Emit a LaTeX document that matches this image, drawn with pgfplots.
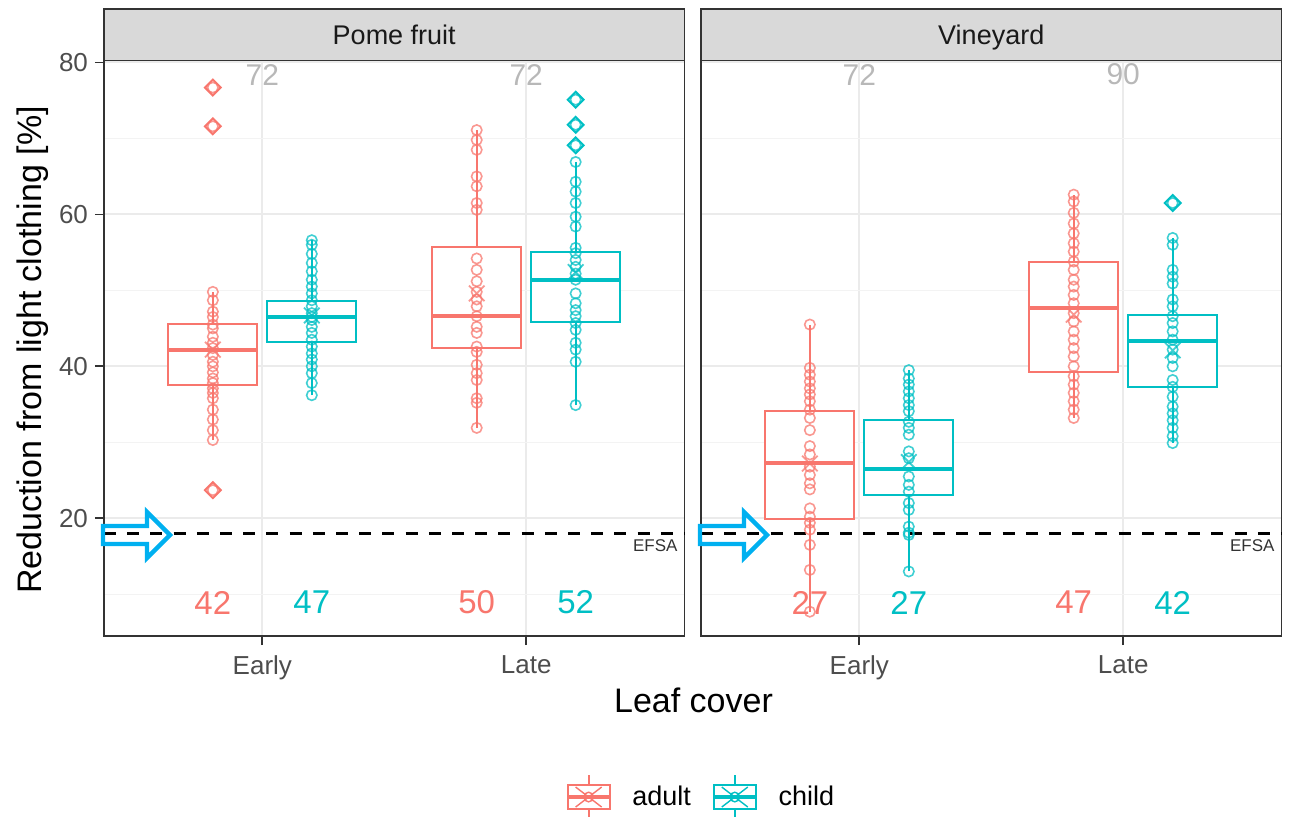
\documentclass[border=0pt]{standalone}
\usepackage{pgfplots}
\pgfplotsset{compat=1.18}
\usepackage{pgfplotstable}
\usepackage{fontspec}
\setmainfont{Liberation Sans}
\definecolor{adultc}{HTML}{F8766D}
\definecolor{childc}{HTML}{00BFC4}
\definecolor{gridc}{HTML}{EBEBEB}
\definecolor{minorc}{HTML}{F3F3F3}
\definecolor{borderc}{HTML}{333333}
\definecolor{tickc}{HTML}{4D4D4D}
\definecolor{stripc}{HTML}{D9D9D9}
\definecolor{nlab}{HTML}{B8B8B8}
\definecolor{arrowc}{HTML}{00B0F0}

% ---------- data (reduction, %) ----------
\pgfplotstableread{
v
76.7
71.6
49.8
48.7
47.2
46.5
45.5
45.0
43.9
43.1
42.4
41.5
40.6
40.0
39.2
38.4
37.8
37.1
36.5
35.8
34.3
33.0
31.6
30.3
23.7
}\PEA
\pgfplotstableread{
v
56.6
56.0
54.8
53.6
52.5
51.4
50.5
49.6
48.7
47.9
47.0
46.5
46.1
45.2
44.4
43.5
42.6
41.7
40.9
40.0
39.1
37.8
36.2
}\PEC
\pgfplotstableread{
v
71.1
69.8
68.5
65.0
63.7
61.5
60.6
54.2
52.7
51.2
49.8
48.8
47.9
46.6
45.2
44.4
42.6
41.9
40.2
39.1
38.2
35.8
35.2
31.9
}\PLA
\pgfplotstableread{
v
75.1
71.8
69.1
66.9
64.3
63.0
61.5
59.7
58.4
55.6
54.9
54.0
53.1
52.2
51.4
49.6
48.3
47.4
46.6
45.7
44.8
43.1
42.2
40.6
34.9
}\PLC
\pgfplotstableread{
v
45.5
39.8
38.9
38.0
37.1
36.3
35.4
34.3
33.2
31.6
29.5
28.4
26.8
25.7
24.6
23.8
21.3
20.2
19.4
18.5
16.5
13.2
7.7
}\VEA
\pgfplotstableread{
v
39.5
38.4
37.6
36.7
35.8
34.9
34.1
32.7
31.9
31.0
28.8
27.9
25.5
24.4
23.5
22.0
21.1
18.9
18.1
17.8
13.0
}\VEC
\pgfplotstableread{
v
62.6
61.7
60.2
58.8
57.5
56.2
55.1
53.8
52.7
51.4
50.5
49.4
48.3
47.0
45.9
44.6
43.5
42.4
41.3
40.0
38.7
37.6
36.5
35.4
34.3
33.2
}\VLA
\pgfplotstableread{
v
61.5
56.9
56.0
52.7
51.8
50.9
48.8
47.9
46.6
45.7
44.6
43.5
42.2
41.1
40.0
38.2
37.3
36.0
34.7
33.8
32.9
31.9
30.8
29.9
}\VLC

% box: colour, box left, centre, box right, lower whisker, lower quartile, median, upper quartile, upper whisker
\newcommand{\boxg}[9]{%
  \addplot[#1, line width=1.1pt] coordinates {(#3,#5) (#3,#6)};
  \addplot[#1, line width=1.1pt] coordinates {(#3,#8) (#3,#9)};
  \addplot[draw=#1, fill=white, line width=1.1pt, line join=miter, line cap=rect]
    coordinates {(#2,#6) (#4,#6) (#4,#8) (#2,#8) (#2,#6)};
  \addplot[#1, line width=2.1pt] coordinates {(#2,#7) (#4,#7)};
}
% points: colour, centre, table, mean
\newcommand{\ptsg}[4]{%
  \addplot[only marks, mark=o, mark size=2.6pt, draw=#1,
    mark options={draw opacity=0.75, line width=0.8pt}]
    table[x expr=#2, y=v] {#3};
  \addplot[only marks, mark=x, mark size=5.5pt, draw=#1,
    mark options={line width=0.9pt, draw opacity=0.75}] coordinates {(#2,#4)};
}

\tikzset{strip/.style={fill=stripc, draw=borderc, line width=0.9pt}}
\pgfplotsset{
  panel/.style={
    scale only axis, width=290.25pt, height=287.75pt,
    xmin=0.4, xmax=2.6, ymin=4.5, ymax=80.26,
    xtick={1,2}, xticklabels={Early,Late},
    ytick={20,40,60,80}, minor ytick={10,30,50,70},
    xmajorgrids, ymajorgrids, yminorgrids,
    major grid style={gridc, line width=1pt},
    minor grid style={minorc, line width=0.6pt},
    axis line style={borderc, line width=0.9pt},
    tick pos=left, tick align=outside,
    major tick length=4.5pt, minor tick length=0pt,
    every tick/.style={borderc, line width=0.9pt},
    tick label style={font=\fontsize{13}{15}\selectfont, text=tickc},
    xticklabel style={yshift=-2pt},
    /pgf/number format/assume math mode=true,
    clip=false,
  },
  outl/.style={only marks, mark=square, mark size=2.8pt, draw=#1,
    mark options={rotate=45, line width=1pt}},
}

\newcommand{\efsa}{%
  \addplot[black, line width=1.3pt, dash pattern=on 6pt off 5.6pt] coordinates {(0.4,18) (2.6,18)};
  \node[anchor=east, font=\fontsize{8.5}{10}\selectfont, text=borderc] at (axis cs:2.6,16.4) {EFSA};
}

\begin{document}
\begin{tikzpicture}
\path[use as bounding box] (0,0) rectangle (647pt,408pt);

% ---------------- Pome fruit ----------------
\begin{axis}[panel, at={(52pt,90pt)}, anchor=south west,
  legend style={at={(1.0301,-0.2798)}, anchor=center, draw=none, fill=none,
    font=\fontsize{13.5}{16}\selectfont, legend columns=2,
    /tikz/every odd column/.append style={column sep=8.5pt},
    /tikz/every even column/.append style={column sep=8.5pt}},
  legend cell align=left]
\addlegendimage{legend image code/.code={
  \draw[adultc, line width=0.9pt, fill=white] (0pt,-6pt) rectangle (21pt,6pt);
  \draw[adultc, line width=0.9pt] (10.5pt,6pt) -- (10.5pt,11pt) (10.5pt,-6pt) -- (10.5pt,-11pt);
  \draw[adultc, line width=1.8pt] (0pt,0pt) -- (21pt,0pt);
  \draw[adultc, line width=0.7pt] (4pt,-5pt) -- (17pt,5pt) (4pt,5pt) -- (17pt,-5pt);
  \draw[adultc, line width=0.7pt] (10.5pt,0pt) circle (2.4pt);}}
\addlegendentry{adult}
\addlegendimage{legend image code/.code={
  \draw[childc, line width=0.9pt, fill=white] (0pt,-6pt) rectangle (21pt,6pt);
  \draw[childc, line width=0.9pt] (10.5pt,6pt) -- (10.5pt,11pt) (10.5pt,-6pt) -- (10.5pt,-11pt);
  \draw[childc, line width=1.8pt] (0pt,0pt) -- (21pt,0pt);
  \draw[childc, line width=0.7pt] (4pt,-5pt) -- (17pt,5pt) (4pt,5pt) -- (17pt,-5pt);
  \draw[childc, line width=0.7pt] (10.5pt,0pt) circle (2.4pt);}}
\addlegendentry{child}

\boxg{adultc}{0.64375}{0.8125}{0.98125}{30.3}{37.5}{42.1}{45.6}{49.8}
\boxg{childc}{1.01875}{1.1875}{1.35625}{36.2}{43.2}{46.5}{48.6}{56.6}
\boxg{adultc}{1.64375}{1.8125}{1.98125}{31.9}{42.4}{46.6}{55.7}{71.1}
\boxg{childc}{2.01875}{2.1875}{2.35625}{34.9}{45.8}{51.4}{55.1}{66.9}
\ptsg{adultc}{0.8125}{\PEA}{42.2}
\ptsg{childc}{1.1875}{\PEC}{46.7}
\ptsg{adultc}{1.8125}{\PLA}{49.6}
\ptsg{childc}{2.1875}{\PLC}{52.4}
\addplot[outl=adultc] coordinates {(0.8125,76.7) (0.8125,71.6) (0.8125,23.7)};
\addplot[outl=childc] coordinates {(2.1875,75.1) (2.1875,71.8) (2.1875,69.1)};
\efsa
\node[text=adultc, font=\fontsize{16.5}{19}\selectfont] at (axis cs:0.8125,8.9) {42};
\node[text=childc, font=\fontsize{16.5}{19}\selectfont] at (axis cs:1.1875,8.9) {47};
\node[text=adultc, font=\fontsize{16.5}{19}\selectfont] at (axis cs:1.8125,8.9) {50};
\node[text=childc, font=\fontsize{16.5}{19}\selectfont] at (axis cs:2.1875,8.9) {52};
\node[text=nlab, font=\fontsize{15}{17}\selectfont] at (axis cs:1,78.4) {72};
\node[text=nlab, font=\fontsize{15}{17}\selectfont] at (axis cs:2,78.4) {72};
\draw[strip] (rel axis cs:0,1) rectangle (rel axis cs:1,1.0895);
\node[anchor=base, font=\fontsize{13.5}{15}\selectfont, text=black!90] at (rel axis cs:0.5,1.0282) {Pome fruit};
\end{axis}

% ---------------- Vineyard ----------------
\begin{axis}[panel, at={(350.5pt,90pt)}, anchor=south west,
  yticklabels={,,,}, ytick style={draw=none}]
\boxg{adultc}{0.64375}{0.8125}{0.98125}{7.7}{19.9}{27.3}{34.1}{45.5}
\boxg{childc}{1.01875}{1.1875}{1.35625}{13.0}{23.1}{26.5}{32.9}{39.5}
\boxg{adultc}{1.64375}{1.8125}{1.98125}{33.2}{39.3}{47.7}{53.7}{62.6}
\boxg{childc}{2.01875}{2.1875}{2.35625}{29.9}{37.3}{43.3}{46.8}{56.9}
\ptsg{adultc}{0.8125}{\VEA}{27.2}
\ptsg{childc}{1.1875}{\VEC}{27.4}
\ptsg{adultc}{1.8125}{\VLA}{46.8}
\ptsg{childc}{2.1875}{\VLC}{42.1}
\addplot[outl=childc] coordinates {(2.1875,61.5)};
\efsa
\node[text=adultc, font=\fontsize{16.5}{19}\selectfont] at (axis cs:0.8125,8.9) {27};
\node[text=childc, font=\fontsize{16.5}{19}\selectfont] at (axis cs:1.1875,8.9) {27};
\node[text=adultc, font=\fontsize{16.5}{19}\selectfont] at (axis cs:1.8125,8.9) {47};
\node[text=childc, font=\fontsize{16.5}{19}\selectfont] at (axis cs:2.1875,8.9) {42};
\node[text=nlab, font=\fontsize{15}{17}\selectfont] at (axis cs:1,78.4) {72};
\node[text=nlab, font=\fontsize{15}{17}\selectfont] at (axis cs:2,78.4) {90};
\draw[strip] (rel axis cs:0,1) rectangle (rel axis cs:1,1.0895);
\node[anchor=base, font=\fontsize{13.5}{15}\selectfont, text=black!90] at (rel axis cs:0.5,1.0282) {Vineyard};
\end{axis}

% axis titles
\node[rotate=90, font=\fontsize{17}{20}\selectfont] at (16.25pt,233pt) {Reduction from light clothing [\%]};
\node[anchor=base, font=\fontsize{17}{20}\selectfont] at (346.75pt,52pt) {Leaf cover};

% annotation arrows
\draw[arrowc, line width=2.2pt, line join=miter] (51.5pt,145pt) -- (73.5pt,145pt) -- (73.5pt,152pt) -- (85pt,140.5pt) -- (73.5pt,129pt) -- (73.5pt,136pt) -- (51.5pt,136pt) -- cycle;
\draw[arrowc, line width=2.2pt, line join=miter] (350pt,145pt) -- (372pt,145pt) -- (372pt,152pt) -- (383.5pt,140.5pt) -- (372pt,129pt) -- (372pt,136pt) -- (350pt,136pt) -- cycle;
\end{tikzpicture}
\end{document}
